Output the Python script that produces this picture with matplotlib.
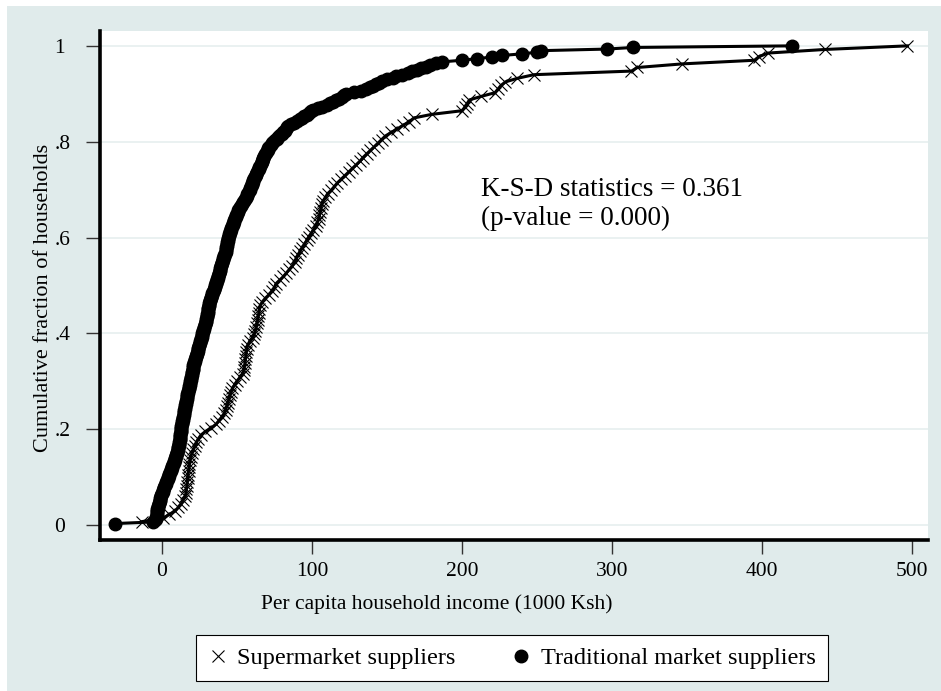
import numpy as np
import matplotlib
matplotlib.use("Agg")
import matplotlib.pyplot as plt
from matplotlib.patches import Rectangle

plt.rcParams['font.family'] = ['Liberation Serif', 'DejaVu Serif']

# per capita household income (1000 Ksh), sorted, one value per household
supermarket = [
    -13, 1, 5, 9, 11, 13, 14, 15.5, 16, 16.3,
    16.6, 16.9, 17.1, 17.4, 17.7, 18, 18.3, 18.7, 19.2, 20,
    21, 22, 23, 24.3, 26, 29, 33, 36, 38, 40,
    41.5, 42.5, 43.2, 44, 44.6, 45.3, 46, 47, 48.5, 50,
    52, 54, 54.5, 55, 55.3, 55.6, 55.9, 56.2, 56.6, 57.2,
    58.5, 60.5, 61.5, 62.2, 62.8, 63.3, 63.8, 64.2, 64.6, 65,
    65.6, 67, 69, 71.5, 73.5, 75, 76, 78.5, 81, 83,
    85, 87, 88.5, 89.5, 91, 92, 93.5, 95, 96.5, 98,
    99.5, 101, 102.5, 103.5, 104.5, 105, 105.5, 106, 106.5, 107.5,
    109, 110.5, 113, 115, 117, 119.5, 122, 124.5, 127, 129.5,
    132, 134, 136.5, 139, 141.5, 144, 146.5, 149, 153, 157,
    161, 165, 168, 180, 200, 202, 203.5, 205, 213, 222,
    224, 226, 229, 237, 248, 313, 317, 347, 395, 398,
    404, 442, 497,
]

traditional = [
    -31, -6, -4.5, -4, -3.8, -3.6, -3.4, -3.2, -3.1, -3.0,
    -2.8, -2.5, -2.2, -1.9, -1.6, -1.3, -1.0, -0.7, -0.4, 0.0,
    0.4, 0.8, 1.2, 1.6, 2.0, 2.5, 3.0, 3.4, 3.8, 4.2,
    4.6, 5.0, 5.4, 5.8, 6.2, 6.6, 7.0, 7.4, 7.8, 8.2,
    8.6, 9.0, 9.3, 9.6, 9.9, 10.2, 10.5, 10.8, 11.0, 11.2,
    11.4, 11.6, 11.8, 12.0, 12.1, 12.2, 12.3, 12.4, 12.5, 12.6,
    12.8, 13.0, 13.2, 13.4, 13.6, 13.8, 14.0, 14.2, 14.4, 14.6,
    14.8, 15.0, 15.2, 15.4, 15.6, 15.8, 16.0, 16.2, 16.4, 16.6,
    16.8, 17.0, 17.2, 17.4, 17.7, 18.0, 18.3, 18.6, 18.8, 19.0,
    19.2, 19.4, 19.6, 19.8, 20.0, 20.2, 20.4, 20.6, 20.8, 21.0,
    21.3, 21.6, 21.9, 22.2, 22.5, 22.8, 23.1, 23.4, 23.7, 24.0,
    24.3, 24.6, 24.9, 25.2, 25.5, 25.8, 26.1, 26.4, 26.7, 27.0,
    27.3, 27.6, 27.9, 28.2, 28.5, 28.8, 29.1, 29.4, 29.6, 29.8,
    30.0, 30.2, 30.4, 30.6, 30.8, 31.0, 31.2, 31.4, 31.6, 31.8,
    32.0, 32.4, 32.8, 33.2, 33.6, 34.0, 34.4, 34.8, 35.2, 35.6,
    36.0, 36.3, 36.6, 36.9, 37.2, 37.5, 37.8, 38.1, 38.4, 38.7,
    39.0, 39.3, 39.6, 39.9, 40.2, 40.5, 40.8, 41.1, 41.5, 42.0,
    42.4, 42.6, 42.8, 43.0, 43.2, 43.4, 43.6, 43.8, 44.0, 44.2,
    44.5, 44.8, 45.1, 45.5, 45.9, 46.3, 46.7, 47.1, 47.5, 47.9,
    48.3, 48.7, 49.1, 49.5, 49.9, 50.4, 51.0, 51.6, 52.2, 52.8,
    53.4, 54.0, 54.6, 55.2, 55.8, 56.4, 57.0, 57.6, 58.1, 58.6,
    59.0, 59.4, 59.8, 60.2, 60.6, 61.0, 61.5, 62.0, 62.5, 63.0,
    63.5, 64.0, 64.5, 65.0, 65.5, 66.0, 66.4, 66.8, 67.2, 67.5,
    68.0, 68.6, 69.2, 69.8, 70.4, 71.0, 71.6, 72.4, 73.2, 74.0,
    75.2, 76.4, 77.6, 78.8, 79.8, 80.8, 81.8, 82.6, 83.3, 84.0,
    86, 88, 90, 92, 93.5, 95, 96.5, 98, 99.5, 101,
    104, 107, 110, 112, 114, 116, 118, 120, 121.5, 123,
    128, 133, 136, 139, 141, 143, 145, 147, 150, 154,
    156, 160, 164, 167, 170, 173, 176, 179, 183, 187,
    200, 210, 220, 227, 240, 250, 253, 297, 314, 420,
]

x_ticks = [0, 100, 200, 300, 400, 500]
y_ticks = [0, 0.2, 0.4, 0.6, 0.8, 1.0]
y_ticklabels = ['0', '.2', '.4', '.6', '.8', '1']

ks_text = 'K-S-D statistics = 0.361\n(p-value = 0.000)'

bg = '#e0ebeb'
grid_col = '#e6efef'


def ecdf(values):
    x = np.sort(np.asarray(values, dtype=float))
    y = np.arange(1, len(x) + 1) / len(x)
    return x, y


fig = plt.figure(figsize=(9.41, 6.91), dpi=100)
fig.patch.set_facecolor('white')
# shaded graph region, leaving a thin white strip at top and left
fig.patches.append(Rectangle((7 / 941, 0), 1, 1 - 6 / 691, transform=fig.transFigure,
                             facecolor=bg, edgecolor='none', zorder=-10))

ax = fig.add_axes([100 / 941, 1 - 540 / 691, 828 / 941, 509 / 691])
ax.set_zorder(1)
ax.set_facecolor('white')

xs, ys = ecdf(supermarket)
xt, yt = ecdf(traditional)

ax.plot(xs, ys, color='black', lw=2.2, marker='x', ms=8.5, mew=0.8,
        label='Supermarket suppliers', zorder=3)
ax.plot(xt, yt, color='black', lw=2.2, marker='o', ms=9,
        label='Traditional market suppliers', zorder=4)

ax.set_xlim(-41.3, 510.7)
ax.set_ylim(-0.031, 1.031)

ax.set_xticks(x_ticks)
ax.set_yticks(y_ticks)
ax.set_yticklabels(y_ticklabels)
ax.grid(axis='y', color=grid_col, lw=1.2, zorder=0)
ax.set_axisbelow(True)

ax.tick_params(axis='both', direction='out', length=10, width=1, labelsize=15.5, color='#333333')
ax.tick_params(axis='y', pad=23)
ax.tick_params(axis='x', pad=6)
# y labels start at a common left edge
for lab in ax.get_yticklabels():
    lab.set_horizontalalignment('left')

for side in ['top', 'right']:
    ax.spines[side].set_visible(False)
for side in ['left', 'bottom']:
    ax.spines[side].set_linewidth(2.6)

ax.set_xlabel('Per capita household income (1000 Ksh)', fontsize=15.5, va='center')
ax.set_ylabel('Cumulative fraction of households', fontsize=16, va='center')
ax.xaxis.set_label_coords((437 - 100) / 828, (540 - 604) / 509)
ax.yaxis.set_label_coords((44 - 100) / 828, (540 - 298) / 509)

ax.text(213, 0.67, ks_text, fontsize=19.5, va='center', ha='left', linespacing=1.25)

leg = fig.legend(loc='center', bbox_to_anchor=(512 / 941, 1 - 658 / 691), ncol=2,
                 fontsize=17.5, frameon=True, fancybox=False, edgecolor='black',
                 framealpha=1, handlelength=0.8, handletextpad=0.4,
                 columnspacing=2.3, borderpad=0.5, borderaxespad=0)
leg.get_frame().set_linewidth(0.8)
for h in leg.legend_handles:
    h.set_linestyle('none')

fig.savefig('out.png', dpi=100)
